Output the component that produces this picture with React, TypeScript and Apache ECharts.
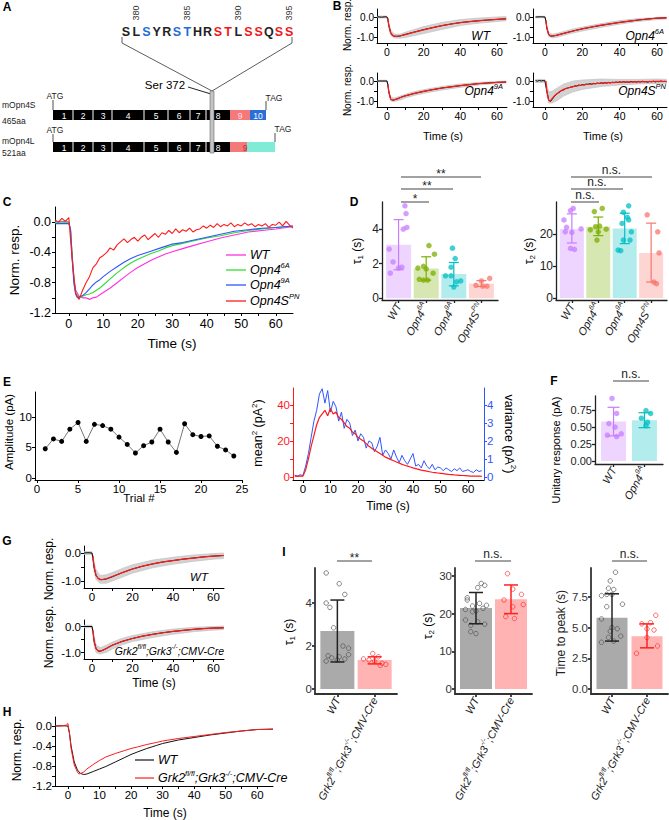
import React, { useEffect, useRef } from "react";
import * as echarts from "echarts";

const FONT = '"Liberation Sans", Arial, Helvetica, sans-serif';

/* ================= A: sequence diagram ================= */
const SEQ = ["S","L","S","Y","R","S","T","H","R","S","T","L","S","S","Q","S","S"];
const SEQ_KIND = [0,0,1,0,0,1,1,0,0,2,2,0,2,2,0,2,2];
const SEQ_NUMS = ["380","385","390","395"];
const SEQ_NUM_IDX = [1,6,11,16];
const EXON_LABELS = ["1","2","3","4","5","6","7","8"];

/* ================= B: mean traces, fits, individual-trace bands ================= */
const B_BAND_T = [-5,0,1,2,4,7,10,15,20,30,40,50,60,65];
const B_WT_MEAN = [[-5,0.01],[-3,-0.01],[-1,0.01],[0,0],[0.5,-0.12],[1,-0.42],[2,-0.78],[3,-0.92],[4,-0.96],[5,-0.97],[7,-0.95],[10,-0.87],[15,-0.75],[20,-0.63],[25,-0.53],[30,-0.43],[35,-0.35],[40,-0.28],[45,-0.23],[50,-0.19],[55,-0.15],[60,-0.12],[65,-0.09]];
const B_WT_FIT = [[0.5,-0.05],[1,-0.42],[2,-0.78],[3,-0.92],[4,-0.96],[5,-0.97],[7,-0.95],[10,-0.88],[15,-0.76],[20,-0.64],[25,-0.53],[30,-0.43],[35,-0.35],[40,-0.28],[45,-0.23],[50,-0.18],[55,-0.15],[60,-0.12],[65,-0.09]];
const B_WT_UP = [0.05,0.05,-0.3,-0.65,-0.85,-0.86,-0.76,-0.62,-0.48,-0.27,-0.13,-0.05,0.0,0.02];
const B_WT_LO = [-0.05,-0.05,-0.55,-0.92,-1.05,-1.06,-1.03,-0.93,-0.83,-0.62,-0.43,-0.31,-0.23,-0.19];

const B_6A_MEAN = [[-5,0],[-2,0.01],[0,0],[0.5,-0.2],[1,-0.55],[2,-0.88],[3,-0.95],[4,-0.95],[6,-0.92],[8,-0.87],[10,-0.82],[15,-0.7],[20,-0.59],[25,-0.5],[30,-0.42],[35,-0.34],[40,-0.27],[45,-0.21],[50,-0.15],[55,-0.1],[60,-0.06],[65,-0.04]];
const B_6A_FIT = [[0.5,-0.15],[1,-0.55],[2,-0.88],[3,-0.95],[4,-0.95],[6,-0.92],[8,-0.87],[10,-0.82],[15,-0.7],[20,-0.59],[25,-0.5],[30,-0.41],[35,-0.34],[40,-0.27],[45,-0.21],[50,-0.15],[55,-0.1],[60,-0.06],[65,-0.04]];
const B_6A_UP = [0.04,0.04,-0.4,-0.78,-0.86,-0.8,-0.72,-0.6,-0.5,-0.33,-0.18,-0.08,-0.02,0.0];
const B_6A_LO = [-0.04,-0.04,-0.6,-0.98,-1.04,-1.0,-0.92,-0.8,-0.7,-0.52,-0.36,-0.22,-0.13,-0.1];

const B_9A_MEAN = [[-5,0],[0,0],[0.5,-0.2],[1,-0.55],[2,-0.9],[3,-0.96],[4,-0.94],[6,-0.88],[8,-0.8],[10,-0.74],[15,-0.62],[20,-0.52],[25,-0.43],[30,-0.35],[35,-0.29],[40,-0.23],[45,-0.18],[50,-0.13],[55,-0.1],[60,-0.07],[65,-0.05]];
const B_9A_FIT = [[0.5,-0.15],[1,-0.55],[2,-0.9],[3,-0.96],[4,-0.94],[6,-0.88],[8,-0.8],[10,-0.74],[15,-0.62],[20,-0.52],[25,-0.43],[30,-0.35],[35,-0.29],[40,-0.23],[45,-0.18],[50,-0.13],[55,-0.1],[60,-0.07],[65,-0.05]];
const B_9A_UP = [0.04,0.04,-0.4,-0.8,-0.85,-0.76,-0.66,-0.53,-0.43,-0.27,-0.15,-0.07,-0.02,0.0];
const B_9A_LO = [-0.04,-0.04,-0.6,-1.0,-1.03,-0.96,-0.85,-0.72,-0.62,-0.45,-0.32,-0.2,-0.12,-0.1];

const B_PN_MEAN = [0.02,-0.01,0.03,0.0,0.02,0.01,
  -0.5,-0.95,-1.02,-0.9,-0.78,-0.68,-0.6,-0.55,-0.47,-0.45,
  -0.38,-0.36,-0.33,-0.3,-0.29,-0.24,-0.25,-0.2,-0.22,-0.18,
  -0.2,-0.15,-0.17,-0.13,-0.16,-0.12,-0.14,-0.1,-0.13,-0.09,
  -0.12,-0.08,-0.11,-0.07,-0.1,-0.06,-0.09,-0.05,-0.08,-0.04,
  -0.07,-0.03,-0.06,-0.04,-0.07,-0.02,-0.05,-0.03,-0.06,-0.02,
  -0.05,-0.01,-0.04,-0.03,-0.06,-0.02,-0.04,-0.01,-0.05,-0.02,
  -0.04,0.0,-0.03,-0.02,-0.04]; // t = -5 .. 65 s, 1 s steps
const B_PN_FIT = [[0.5,0],[1,-0.5],[2,-0.95],[2.5,-1.0],[3,-0.97],[4,-0.86],[5,-0.75],[6,-0.66],[8,-0.52],[10,-0.42],[12,-0.35],[15,-0.28],[20,-0.2],[25,-0.15],[30,-0.11],[35,-0.08],[40,-0.06],[50,-0.04],[60,-0.02],[65,-0.02]];
const B_PN_UP = [0.08,0.08,-0.2,-0.55,-0.5,-0.32,-0.15,0.0,0.05,0.1,0.08,0.08,0.1,0.08];
const B_PN_LO = [-0.08,-0.08,-0.7,-1.1,-1.1,-0.95,-0.75,-0.55,-0.42,-0.28,-0.2,-0.15,-0.12,-0.12];

/* ================= C: overlay of mean traces ================= */
const C_WT = [[-4,0.0],[-2,0.01],[0,0.0],[0.5,-0.1],[1,-0.45],[1.5,-0.75],[2,-0.9],[3,-0.98],[4,-1.0],[5,-1.0],[6,-1.02],[7,-1.0],[8,-0.99],[9,-0.96],[10,-0.93],[12,-0.87],[14,-0.8],[16,-0.73],[18,-0.66],[20,-0.6],[22,-0.55],[24,-0.5],[26,-0.46],[28,-0.42],[30,-0.39],[33,-0.35],[36,-0.31],[40,-0.26],[44,-0.21],[48,-0.17],[52,-0.13],[56,-0.11],[60,-0.09],[63,-0.07],[65,-0.06]];
const C_6A = [[-4,0],[0,0],[0.5,-0.1],[1,-0.45],[1.5,-0.78],[2,-0.93],[3,-1.0],[4,-0.98],[5,-0.96],[6,-0.95],[7,-0.93],[8,-0.9],[9,-0.87],[10,-0.83],[12,-0.75],[14,-0.67],[16,-0.6],[18,-0.54],[20,-0.49],[22,-0.45],[24,-0.41],[26,-0.38],[28,-0.34],[30,-0.31],[33,-0.28],[36,-0.25],[40,-0.21],[44,-0.18],[48,-0.14],[52,-0.11],[56,-0.09],[60,-0.07],[65,-0.05]];
const C_9A = [[-4,-0.02],[0,-0.02],[0.5,-0.1],[1,-0.5],[1.5,-0.82],[2,-0.95],[2.5,-1.0],[3,-0.99],[4,-0.97],[5,-0.93],[6,-0.88],[7,-0.83],[8,-0.79],[9,-0.76],[10,-0.72],[12,-0.65],[14,-0.59],[16,-0.53],[18,-0.48],[20,-0.44],[22,-0.41],[24,-0.38],[26,-0.35],[28,-0.32],[30,-0.29],[33,-0.27],[36,-0.24],[40,-0.2],[44,-0.16],[48,-0.12],[52,-0.1],[56,-0.08],[60,-0.07],[65,-0.05]];
const C_PN = [0.03,0.0,0.05,0.01,0.06,
  -0.5,-0.95,-1.02,-0.9,-0.8,-0.72,-0.6,-0.55,-0.47,-0.44,
  -0.4,-0.34,-0.37,-0.3,-0.26,-0.22,-0.27,-0.23,-0.2,-0.25,
  -0.2,-0.17,-0.23,-0.19,-0.15,-0.2,-0.14,-0.16,-0.11,-0.15,
  -0.09,-0.14,-0.1,-0.12,-0.08,-0.13,-0.1,-0.09,-0.05,-0.08,
  -0.04,-0.07,-0.02,-0.06,-0.03,-0.05,-0.01,-0.06,-0.03,-0.05,
  -0.01,-0.04,-0.02,-0.06,-0.03,-0.05,-0.02,-0.07,-0.03,-0.04,
  0.0,-0.05,0.01,-0.04,-0.08]; // t = -4 .. 65 s
const C_LEGEND = ["{i|WT}", "{i|Opn4}{s|6A}", "{i|Opn4}{s|9A}", "{i|Opn4S}{s|PN}"];

/* ================= D: tau1 / tau2 ================= */
const D_LABELS = ["{i|WT}", "{i|Opn4}{s|6A}", "{i|Opn4}{s|9A}", "{i|Opn4S}{s|PN}"];
const D_TAU1_MEAN = [3.1, 1.72, 1.4, 0.85];
const D_TAU1_LO = [1.65, 1.05, 0.72, 0.68];
const D_TAU1_HI = [4.55, 2.4, 2.07, 1.02];
const D_TAU1_PTS = [[5.35,4.9,4.1,4.0,2.85,2.1,1.8,1.75,1.45],[3.05,2.55,1.85,1.75,1.7,1.45,1.1,1.05,1.05],[2.9,2.3,1.8,1.3,1.3,1.0,0.95,0.65],[1.15,1.0,0.75,0.7,0.7]];
const D_TAU1_JIT = [[0.23,0.27,0.3,0.17,-0.34,-0.2,0.12,0.0,-0.3],[0.1,0.3,-0.1,-0.3,0.0,0.25,-0.25,-0.1,0.05],[-0.05,0.05,-0.1,-0.3,-0.1,0.25,0.1,0.0],[0.3,0.0,-0.2,0.05,0.2]];
const D_TAU2_MEAN = [21.6, 22.3, 21.7, 14.1];
const D_TAU2_LO = [17.2, 19.5, 17.0, 5.0];
const D_TAU2_HI = [26.3, 25.3, 26.5, 23.4];
const D_TAU2_PTS = [[28.0,27.3,24.4,22.1,21.6,20.7,20.5,15.5,15.2],[28.0,27.0,22.5,22.3,21.5,21.3,20.7,18.1],[28.8,26.8,25.2,24.4,23.3,20.7,18.1,18.1,15.0,14.8],[26.0,20.7,14.1,5.0,4.5]];
const D_TAU2_JIT = [[0.05,-0.05,-0.3,-0.2,0.35,-0.25,0.0,-0.05,0.1],[0.15,-0.15,0.05,-0.1,0.3,-0.3,0.0,-0.05],[0.15,-0.05,0.1,0.15,-0.1,0.25,0.2,-0.05,-0.25,-0.15],[-0.15,0.25,0.3,0.1,0.2]];

/* ================= E: amplitudes, mean^2 and variance ================= */
const E_TRIAL = [1,2,3,4,5,6,7,8,9,10,11,12,13,14,15,16,17,18,19,20,21,22,23,24];
const E_AMP = [4.8,6.4,6.0,8.0,9.1,6.0,8.8,8.6,8.0,6.7,5.5,4.1,5.3,5.9,8.0,5.9,4.2,8.9,7.1,6.8,6.9,5.2,4.6,3.6];
const E_MEAN2 = [0.5,0.3,0.5,0.4,
  4,10,17,23,29,33,35,37,34,38,
  35,36,33,32,30,28,27,25,24,22,
  21,20,18.5,17,16,15,14,13,12,11,
  10.3,9.6,9,8.3,7.7,7,6.5,6,5.5,5,
  4.6,4.2,3.8,3.5,3.2,2.9,2.6,2.4,2.2,2,
  1.8,1.6,1.4,1.3,1.1,1.0,0.9,0.8,0.7,0.6,
  0.5,0.5,0.4,0.4,0.3]; // t = -3 .. 65 s
const E_VAR = [0.1,0.05,0.12,0.08,
  0.6,1.3,2.2,3.1,3.7,4.6,4.9,4.1,4.8,3.6,
  4.2,3.9,3.1,3.6,2.7,3.2,3.0,2.3,2.6,2.0,
  2.4,2.2,1.6,2.0,1.9,1.4,1.7,2.2,1.2,1.5,
  1.3,1.0,1.5,1.1,0.8,1.2,0.9,0.7,1.0,1.3,
  0.6,0.7,0.5,0.9,0.6,0.45,0.7,0.4,0.55,0.5,
  0.35,0.5,0.4,0.3,0.45,0.35,0.5,0.3,0.35,0.4,
  0.3,0.25,0.4,0.3,0.35];

/* ================= F: unitary response ================= */
const F_LABELS = ["{i|WT}", "{i|Opn4}{s|9A}"];
const F_MEAN = [0.58, 0.60];
const F_LO = [0.37, 0.49];
const F_HI = [0.79, 0.71];
const F_PTS = [[0.92,0.70,0.55,0.50,0.40,0.38,0.36],[0.74,0.70,0.63,0.57,0.52]];
const F_JIT = [[-0.05,0.1,-0.15,0.05,0.25,-0.2,0.1],[0.05,0.2,-0.1,0.1,0.05]];

/* ================= G / H: Grk2/3 traces ================= */
const G_BAND_T = [-4,0,1,2,4,7,10,15,20,30,40,50,60,65];
const G_WT_MEAN = [[-4,0],[-2,0.01],[0,0],[0.5,-0.2],[1,-0.5],[2,-0.8],[3,-0.9],[4,-0.94],[5,-0.95],[7,-0.93],[10,-0.85],[15,-0.7],[20,-0.57],[25,-0.47],[30,-0.39],[35,-0.32],[40,-0.27],[45,-0.22],[50,-0.18],[55,-0.14],[60,-0.11],[65,-0.09]];
const G_WT_FIT = [[0.5,-0.1],[1,-0.48],[2,-0.8],[3,-0.91],[4,-0.95],[5,-0.95],[7,-0.92],[10,-0.84],[15,-0.7],[20,-0.57],[25,-0.47],[30,-0.39],[35,-0.32],[40,-0.27],[45,-0.22],[50,-0.18],[55,-0.14],[60,-0.11],[65,-0.09]];
const G_WT_UP = [0.05,0.05,-0.3,-0.6,-0.8,-0.78,-0.7,-0.55,-0.42,-0.25,-0.15,-0.07,-0.02,0.0];
const G_WT_LO = [-0.05,-0.05,-0.65,-0.95,-1.08,-1.08,-1.0,-0.86,-0.72,-0.53,-0.4,-0.3,-0.22,-0.2];
const G_KO_MEAN = [[-4,0],[0,0],[0.5,-0.2],[1,-0.55],[2,-0.85],[3,-0.94],[4,-0.95],[5,-0.93],[7,-0.85],[10,-0.72],[15,-0.57],[20,-0.46],[25,-0.37],[30,-0.3],[35,-0.24],[40,-0.19],[45,-0.15],[50,-0.11],[55,-0.08],[60,-0.06],[65,-0.05]];
const G_KO_FIT = [[0.5,-0.15],[1,-0.55],[2,-0.85],[3,-0.94],[4,-0.95],[5,-0.92],[7,-0.85],[10,-0.72],[15,-0.57],[20,-0.46],[25,-0.37],[30,-0.3],[35,-0.24],[40,-0.19],[45,-0.15],[50,-0.11],[55,-0.08],[60,-0.06],[65,-0.05]];
const G_KO_UP = [0.05,0.05,-0.35,-0.7,-0.82,-0.72,-0.6,-0.45,-0.35,-0.2,-0.1,-0.03,0.0,0.02];
const G_KO_LO = [-0.05,-0.05,-0.7,-1.0,-1.06,-1.0,-0.87,-0.7,-0.58,-0.42,-0.3,-0.2,-0.14,-0.12];
const KO_LABEL = "{i|Grk2}{s|fl/fl}{i|;Grk3}{s|-/-}{i|;CMV-Cre}";

const H_WT = [[-4,0],[-2,0.005],[0,0],[0.5,-0.15],[1,-0.4],[2,-0.72],[3,-0.88],[4,-0.95],[5,-0.97],[6,-0.96],[8,-0.91],[10,-0.86],[12,-0.81],[15,-0.72],[18,-0.63],[20,-0.57],[22,-0.52],[25,-0.45],[28,-0.39],[30,-0.35],[35,-0.28],[40,-0.23],[45,-0.18],[50,-0.14],[55,-0.1],[60,-0.07],[65,-0.06]];
const H_KO = [[-4,0],[-2,0],[-0.5,0.02],[0,0.05],[0.5,-0.15],[1,-0.45],[2,-0.78],[3,-0.92],[3.5,-0.96],[4,-0.95],[5,-0.92],[6,-0.86],[8,-0.77],[10,-0.69],[12,-0.62],[15,-0.55],[18,-0.49],[20,-0.45],[22,-0.42],[25,-0.37],[28,-0.33],[30,-0.3],[35,-0.25],[40,-0.21],[45,-0.17],[50,-0.13],[55,-0.1],[60,-0.07],[65,-0.07]];

/* ================= I: kinetics bars ================= */
const I_LABELS = ["{i|WT}", KO_LABEL];
const I_TAU1_MEAN = [2.7, 1.35], I_TAU1_LO = [1.26, 1.17], I_TAU1_HI = [4.14, 1.5];
const I_TAU1_PTS = [[5.4,4.9,4.4,4.0,3.8,2.85,2.0,1.9,1.6,1.55,1.5,1.45,1.4,1.35,1.3],[1.65,1.5,1.4,1.35,1.3,1.2,1.15,1.1]];
const I_TAU1_JIT = [[-0.3,0.05,0.2,-0.3,-0.2,-0.1,0.15,0.3,0.3,-0.25,0.05,-0.15,0.2,0.0,-0.3],[-0.05,0.1,-0.3,-0.15,0.0,0.2,0.3,0.15]];
const I_TAU2_MEAN = [21.5, 23.8], I_TAU2_LO = [17.3, 20.0], I_TAU2_HI = [25.6, 27.6];
const I_TAU2_PTS = [[28.0,27.5,26.9,24.2,23.6,22.7,22.2,22.0,21.4,21.1,20.7,20.5,18.3,17.8,17.2,16.9,15.2,14.7],[30.6,26.5,25.1,23.6,22.4,21.8,19.2,18.7]];
const I_TAU2_JIT = [[0.15,0.25,0.05,-0.25,-0.25,0.1,0.3,-0.1,0.2,-0.3,0.0,-0.1,-0.3,0.05,0.25,-0.15,-0.15,0.0],[-0.1,0.05,0.3,-0.2,0.35,0.05,-0.15,0.1]];
const I_TTP_MEAN = [5.8, 4.3], I_TTP_LO = [3.9, 3.35], I_TTP_HI = [7.75, 5.3];
const I_TTP_PTS = [[9.5,8.8,8.2,8.1,7.7,7.7,7.6,6.9,6.7,5.7,5.0,4.9,4.7,4.3,4.2,3.9,3.8],[6.0,5.4,5.3,4.9,4.8,4.2,3.5,2.9]];
const I_TTP_JIT = [[0.1,-0.05,-0.1,0.05,-0.15,0.0,-0.3,0.3,-0.15,-0.3,0.0,0.15,-0.05,0.25,-0.1,0.05,-0.3],[0.25,0.1,-0.15,0.0,0.2,0.0,0.3,-0.3]];

/* ================= colours ================= */
const GG = ["#C77CFF", "#7CAE00", "#00BFC4", "#F8766D"];
const GG_FILL = ["rgba(199,124,255,0.32)", "rgba(124,174,0,0.3)", "rgba(0,191,196,0.3)", "rgba(248,118,109,0.3)"];
const C_COLORS = ["#ff30e0", "#30dd30", "#2f55ff", "#ff1a1a"];
const RED = "#ff1a1a";
const BLUE = "#2f55ff";

function steps(a: number, b: number) { const r: number[] = []; for (let t = a; t <= b; t++) r.push(t); return r; }
function zip(ts: number[], vs: number[]) { return vs.map((v, i) => [ts[i], v]); }

function richIt(fs: number, sfs: number, color = "#000", lh = 0) {
  return {
    i: { fontSize: fs, fontStyle: "italic", fontFamily: FONT, color, lineHeight: lh || fs + 5 },
    s: { fontSize: sfs, fontStyle: "italic", fontFamily: FONT, color, lineHeight: 6, verticalAlign: "top" },
  };
}

function axis(min: number, max: number, ticks: number[], labels: number[], fmt: any, o: any = {}) {
  const color = o.color || "#000";
  return {
    type: "value", min, max, position: o.pos,
    axisLine: { show: true, onZero: false, lineStyle: { color, width: o.lw || 1 } },
    axisTick: { show: true, inside: false, length: o.tl ?? 3, customValues: ticks, lineStyle: { color, width: o.lw || 1 } },
    axisLabel: { show: true, customValues: labels, formatter: fmt, fontSize: o.fs || 11, fontFamily: FONT, color: o.lc || color, margin: o.m ?? 3, rotate: o.rot || 0, rich: o.rich, fontStyle: "normal" },
    splitLine: { show: false }, minorTick: { show: false },
  };
}
const f0 = (v: number) => String(Math.round(v));
const f1 = (v: number) => v.toFixed(1);
const f2 = (v: number) => v.toFixed(2);

function buildOption() {
  const grid: any[] = [], xAxis: any[] = [], yAxis: any[] = [], series: any[] = [], gr: any[] = [];

  const plot = (box: number[], xa: any, ya: any, ya2?: any) => {
    grid.push({ left: box[0], top: box[1], width: box[2], height: box[3], containLabel: false, outerBoundsMode: "none" });
    const gi = grid.length - 1;
    xAxis.push({ ...xa, gridIndex: gi });
    yAxis.push({ ...ya, gridIndex: gi });
    const r: any = { xi: xAxis.length - 1, yi: yAxis.length - 1 };
    if (ya2) { yAxis.push({ ...ya2, gridIndex: gi }); r.yi2 = yAxis.length - 1; }
    return r;
  };
  const line = (p: any, data: any[], color: string, width = 1, yi?: number, z = 3, extra: any = {}) => {
    series.push({ type: "line", xAxisIndex: p.xi, yAxisIndex: yi ?? p.yi, data, symbol: "none", showSymbol: false, lineStyle: { color, width }, itemStyle: { color }, z, silent: true, clip: true, ...extra });
  };
  const band = (p: any, ts: number[], lo: number[], hi: number[], color: string) => {
    series.push({
      type: "custom", xAxisIndex: p.xi, yAxisIndex: p.yi, data: [[10, -0.5]], encode: { x: 0, y: 1 }, clip: true, silent: true, z: 1,
      renderItem: (_: any, api: any) => {
        const pts: any[] = [];
        for (let i = 0; i < ts.length; i++) pts.push(api.coord([ts[i], hi[i]]));
        for (let i = ts.length - 1; i >= 0; i--) pts.push(api.coord([ts[i], lo[i]]));
        return { type: "polygon", shape: { points: pts }, style: { fill: color, stroke: "#bdbdbd", lineWidth: 0.6 } };
      },
    });
  };
  const bars = (p: any, means: number[], lo: number[], hi: number[], pts: number[][], jit: number[][], o: any) => {
    series.push({ type: "bar", xAxisIndex: p.xi, yAxisIndex: p.yi, barWidth: o.bw, silent: true, z: 1,
      data: means.map((m, i) => ({ value: [i + 1, m], itemStyle: { color: o.fills[i] } })) });
    pts.forEach((arr, gi) => {
      series.push({ type: "scatter", xAxisIndex: p.xi, yAxisIndex: p.yi, silent: true, z: 2, symbol: "circle", symbolSize: o.ps,
        data: arr.map((v, k) => [gi + 1 + jit[gi][k], v]),
        itemStyle: o.open ? { color: "rgba(255,255,255,0)", borderColor: o.ptc[gi], borderWidth: 0.9 } : { color: o.ptc[gi], opacity: 0.75 } });
    });
    series.push({ type: "custom", xAxisIndex: p.xi, yAxisIndex: p.yi, silent: true, z: 3, encode: { x: 0, y: [1, 2] },
      data: means.map((_, i) => [i + 1, lo[i], hi[i]]),
      renderItem: (params: any, api: any) => {
        const x = api.value(0);
        const a = api.coord([x, api.value(2)]), b = api.coord([x, api.value(1)]);
        const st = { stroke: o.errc[params.dataIndex], lineWidth: o.ew };
        return { type: "group", children: [
          { type: "line", shape: { x1: a[0], y1: a[1], x2: b[0], y2: b[1] }, style: st },
          { type: "line", shape: { x1: a[0] - o.cap, y1: a[1], x2: a[0] + o.cap, y2: a[1] }, style: st },
          { type: "line", shape: { x1: b[0] - o.cap, y1: b[1], x2: b[0] + o.cap, y2: b[1] }, style: st },
        ] };
      } });
  };
  const txt = (x: number, y: number, text: string, o: any = {}) => gr.push({
    type: "text", x, y, rotation: o.rot || 0, silent: true, z: 50,
    style: { text, fill: o.color || "#000", fontSize: o.fs || 11, fontFamily: FONT, fontWeight: o.bold ? "bold" : "normal", fontStyle: o.italic ? "italic" : "normal", align: o.align || "center", verticalAlign: o.va || "middle", rich: o.rich },
  });
  const seg = (x1: number, y1: number, x2: number, y2: number, color = "#000", w = 1) => gr.push({ type: "line", silent: true, z: 40, shape: { x1, y1, x2, y2 }, style: { stroke: color, lineWidth: w } });
  const rect = (x: number, y: number, w: number, h: number, fill: string, z = 30, stroke?: string) => gr.push({ type: "rect", silent: true, z, shape: { x, y, width: w, height: h }, style: { fill, stroke: stroke || null, lineWidth: stroke ? 0.6 : 0 } });
  const sig = (x1: number, x2: number, y: number, t: string, fs = 12) => { seg(x1, y, x2, y, "#444", 1); txt((x1 + x2) / 2, y - (t.startsWith("*") ? 3 : 7), t, { fs, color: "#222" }); };
  const PI2 = Math.PI / 2;

  /* ---------- panel letters ---------- */
  const letters: any[] = [["A", 7, 7], ["B", 337, 6], ["C", 7, 202], ["D", 354, 202], ["E", 7, 382], ["F", 554, 381], ["G", 7, 541], ["H", 7, 712], ["I", 284, 552]];
  letters.forEach(([t, x, y]) => txt(x, y, t, { bold: true, fs: 12 }));

  /* ---------- A: diagram ---------- */
  const kindColor = ["#222", "#1f6fd6", "#f01818"];
  SEQ.forEach((s, i) => txt(126 + i * 10.2, 32, s, { bold: true, fs: 12.5, color: kindColor[SEQ_KIND[i]] }));
  SEQ_NUMS.forEach((n, k) => txt(126 + SEQ_NUM_IDX[k] * 10.2, 13, n, { fs: 9, rot: PI2, color: "#333" }));
  gr.push({ type: "polyline", silent: true, z: 40, shape: { points: [[122, 37], [122, 43], [212, 91]] }, style: { stroke: "#333", lineWidth: 0.8, fill: null } });
  gr.push({ type: "polyline", silent: true, z: 40, shape: { points: [[292, 37], [292, 43], [212, 91]] }, style: { stroke: "#333", lineWidth: 0.8, fill: null } });
  txt(165, 85, "Ser 372", { fs: 11.5 });
  seg(188, 87, 211, 94, "#222", 1);
  const exonCenters = [64, 83, 103, 128, 156, 179, 198, 218];
  const dividers = [73, 93, 112, 144, 168, 190, 206];
  [110, 142].forEach((y, row) => {
    rect(53, y, 177, 10, "#000");
    dividers.forEach((dx) => seg(dx, y, dx, y + 10, "#fff", 1));
    EXON_LABELS.forEach((e, k) => txt(exonCenters[k], y + 5.5, e, { fs: 8.5, color: "#fff" }));
    if (row === 0) {
      rect(230, y, 20, 10, "#f47a7a"); rect(250, y, 16, 10, "#2a6fd8");
      txt(240, y + 5.5, "9", { fs: 8.5, color: "#fde" }); txt(258, y + 5.5, "10", { fs: 8.5, color: "#fff" });
      txt(274, 98, "TAG", { fs: 8.5, color: "#222" }); seg(266, 101, 266, 110, "#222", 0.8);
      txt(55, 96, "ATG", { fs: 8.5, color: "#222" }); seg(53, 100, 53, 110, "#222", 0.8);
      txt(2, 105, "mOpn4S", { fs: 8.5, align: "left", color: "#222" }); txt(2, 121, "465aa", { fs: 8.5, align: "left", color: "#222" });
    } else {
      rect(230, y, 17, 10, "#f47a7a"); rect(247, y, 28, 10, "#80ecd6");
      txt(245, y + 5.5, "9", { fs: 8.5, color: "#a33" });
      txt(283, 129, "TAG", { fs: 8.5, color: "#222" }); seg(275, 133, 275, 142, "#222", 0.8);
      txt(55, 130, "ATG", { fs: 8.5, color: "#222" }); seg(53, 134, 53, 142, "#222", 0.8);
      txt(2, 141, "mOpn4L", { fs: 8.5, align: "left", color: "#222" }); txt(2, 153, "521aa", { fs: 8.5, align: "left", color: "#222" });
    }
  });
  rect(210, 91, 4, 62, "#c4c4c4", 45, "#6a6a6a");

  /* ---------- B ---------- */
  const bX = [0, 10, 20, 30, 40, 50, 60], bXL = [0, 20, 40, 60];
  const bY = (o: any = {}) => axis(-1.3, 0.4, [0, -0.5, -1], [0, -1], f1, { fs: 10, ...o });
  const bPlots: any[] = [
    [[377, 9, 130, 34], -5.45, 65.5, B_WT_MEAN, B_WT_FIT, B_WT_UP, B_WT_LO],
    [[533, 9, 134, 34], -6.4, 65.3, B_6A_MEAN, B_6A_FIT, B_6A_UP, B_6A_LO],
    [[377, 73, 130, 34], -5.45, 65.5, B_9A_MEAN, B_9A_FIT, B_9A_UP, B_9A_LO],
    [[533, 73, 134, 34], -6.4, 65.3, zip(steps(-5, 65), B_PN_MEAN), B_PN_FIT, B_PN_UP, B_PN_LO],
  ];
  bPlots.forEach(([box, mn, mx, mean, fit, up, lo]) => {
    const p = plot(box, axis(mn, mx, bX, bXL, f0, { fs: 10.5 }), bY());
    band(p, B_BAND_T, lo, up, "#d2d2d2");
    line(p, mean, "#000", 1, undefined, 3);
    line(p, fit, RED, 1.2, undefined, 4);
  });
  const bRich = richIt(12, 7.5);
  txt(490, 36, "{i|WT}", { align: "right", rich: bRich });
  txt(664, 36, "{i|Opn4}{s|6A}", { align: "right", rich: bRich });
  txt(503, 91, "{i|Opn4}{s|9A}", { align: "right", rich: bRich });
  txt(666, 91, "{i|Opn4S}{s|PN}", { align: "right", rich: bRich });
  txt(347, 25, "Norm. resp.", { rot: PI2, fs: 10 });
  txt(347, 90, "Norm. resp.", { rot: PI2, fs: 10 });
  txt(443, 136, "Time (s)", { fs: 11 });
  txt(603, 136, "Time (s)", { fs: 11 });

  /* ---------- C ---------- */
  {
    const p = plot([55, 207, 238, 106],
      axis(-4, 65, steps(0, 12).map((k) => k * 5), steps(0, 6).map((k) => k * 10), f0, { fs: 12.5, m: 4 }),
      axis(-1.2, 0.2, [0, -0.2, -0.4, -0.6, -0.8, -1.0, -1.2], [0, -0.4, -0.8, -1.2], f1, { fs: 12.5, m: 4 }));
    line(p, C_WT, C_COLORS[0], 1.1);
    line(p, C_6A, C_COLORS[1], 1.1);
    line(p, C_9A, C_COLORS[2], 1.1);
    line(p, zip(steps(-4, 65), C_PN), C_COLORS[3], 1.1, undefined, 5);
    const cRich = richIt(12.5, 7.5);
    [255, 270, 285, 301].forEach((y, k) => { seg(226, y, 246, y, C_COLORS[k], 1.3); txt(250, y, C_LEGEND[k], { align: "left", rich: cRich }); });
    txt(14, 260, "Norm. resp.", { rot: PI2, fs: 13.5 });
    txt(172, 343, "Time (s)", { fs: 13.5 });
  }

  /* ---------- D ---------- */
  const dRich = richIt(11, 7, "#222", 16);
  {
    const p = plot([382, 202, 116, 98],
      axis(0.4, 4.6, [1, 2, 3, 4], [1, 2, 3, 4], (v: number) => D_LABELS[Math.round(v) - 1], { rot: 60, rich: dRich, m: 4, lw: 1.3, color: "#222" }),
      axis(-0.1, 5.57, [0, 2, 4], [0, 2, 4], f0, { fs: 12, lw: 1.3, color: "#222" }));
    bars(p, D_TAU1_MEAN, D_TAU1_LO, D_TAU1_HI, D_TAU1_PTS, D_TAU1_JIT, { bw: 25, fills: GG_FILL, ptc: GG, errc: GG, ps: 5.5, cap: 5, ew: 1.2 });
    const p2 = plot([556, 202, 111, 98],
      axis(0.4, 4.6, [1, 2, 3, 4], [1, 2, 3, 4], (v: number) => D_LABELS[Math.round(v) - 1], { rot: 60, rich: dRich, m: 4, lw: 1.3, color: "#222" }),
      axis(-0.6, 30, [0, 10, 20], [0, 10, 20], f0, { fs: 12, lw: 1.3, color: "#222" }));
    bars(p2, D_TAU2_MEAN, D_TAU2_LO, D_TAU2_HI, D_TAU2_PTS, D_TAU2_JIT, { bw: 24, fills: GG_FILL, ptc: GG, errc: GG, ps: 5.5, cap: 5, ew: 1.2 });
    const tRich = { a: { fontSize: 12, fontFamily: FONT, color: "#222", lineHeight: 14 }, b: { fontSize: 8, fontFamily: FONT, color: "#222", lineHeight: 6, verticalAlign: "bottom" } };
    txt(357, 251, "{a|τ}{b|1}{a| (s)}", { rot: PI2, rich: tRich });
    txt(529, 251, "{a|τ}{b|2}{a| (s)}", { rot: PI2, rich: tRich });
    sig(401, 429, 202, "*");
    sig(401, 453, 189, "**");
    sig(401, 481, 177, "**");
    sig(571, 599, 202, "n.s.");
    sig(571, 623, 189, "n.s.");
    sig(571, 652, 177, "n.s.");
  }

  /* ---------- E ---------- */
  {
    const p = plot([35, 392, 207, 88],
      axis(-0.25, 25, [0, 5, 10, 15, 20, 25], [0, 5, 10, 15, 20, 25], f0, { fs: 11.5 }),
      axis(-0.33, 14.1, [0, 5, 10], [0, 5, 10], f0, { fs: 11.5 }));
    series.push({ type: "line", xAxisIndex: p.xi, yAxisIndex: p.yi, data: zip(E_TRIAL, E_AMP), symbol: "circle", symbolSize: 5, showSymbol: true,
      lineStyle: { color: "#777", width: 1 }, itemStyle: { color: "#000", borderWidth: 0 }, silent: true, z: 3 });
    txt(9, 432, "Amplitude (pA)", { rot: PI2, fs: 11.5 });
    txt(139, 498, "Trial #", { fs: 11.5 });

    const p2 = plot([293, 388, 191, 92],
      axis(-3.6, 65.8, [0, 10, 20, 30, 40, 50, 60], [0, 10, 20, 30, 40, 50, 60], f0, { fs: 11.5 }),
      axis(-1.7, 49.4, [0, 10, 20, 30, 40], [0, 20, 40], f0, { fs: 11.5, color: RED, pos: "left" }),
      axis(-0.17, 4.94, [0, 1, 2, 3, 4, 5], [0, 1, 2, 3, 4, 5], f0, { fs: 11.5, color: BLUE, pos: "right" }));
    line(p2, zip(steps(-3, 65), E_VAR), BLUE, 1, p2.yi2, 3);
    line(p2, zip(steps(-3, 65), E_MEAN2), RED, 1.2, p2.yi, 4);
    txt(258, 433, "{a|mean}{b|2}{a| (pA}{b|2}{a|)}", { rot: PI2, rich: { a: { fontSize: 12.5, fontFamily: FONT, color: RED, lineHeight: 16 }, b: { fontSize: 8, fontFamily: FONT, color: RED, lineHeight: 6, verticalAlign: "top" } } });
    txt(509, 434, "{a|variance (pA}{b|2}{a|)}", { rot: -PI2, rich: { a: { fontSize: 12.5, fontFamily: FONT, color: BLUE, lineHeight: 16 }, b: { fontSize: 8, fontFamily: FONT, color: BLUE, lineHeight: 6, verticalAlign: "top" } } });
    txt(388, 506, "Time (s)", { fs: 12 });
  }

  /* ---------- F ---------- */
  {
    const p = plot([595, 396, 68, 68],
      axis(0.4, 2.6, [1, 2], [1, 2], (v: number) => F_LABELS[Math.round(v) - 1], { rot: 60, rich: dRich, m: 4, lw: 1.3, color: "#222" }),
      axis(-0.044, 0.956, [0, 0.25, 0.5, 0.75], [0, 0.25, 0.5, 0.75], f2, { fs: 11, lw: 1.3, color: "#222" }));
    bars(p, F_MEAN, F_LO, F_HI, F_PTS, F_JIT, { bw: 25, fills: [GG_FILL[0], GG_FILL[2]], ptc: [GG[0], GG[2]], errc: [GG[0], GG[2]], ps: 5.5, cap: 6, ew: 1.2 });
    sig(613, 649, 381, "n.s.");
    txt(556, 450, "Unitary response (pA)", { rot: PI2, fs: 11 });
  }

  /* ---------- G ---------- */
  {
    const gx = () => axis(-3.95, 65.2, bX, bXL, f0, { fs: 11.5 });
    const gy = () => axis(-1.25, 0.25, [0, -0.5, -1], [0, -1], f1, { fs: 11.5 });
    const p = plot([84, 546, 140, 42], gx(), gy());
    band(p, G_BAND_T, G_WT_LO, G_WT_UP, "#d2d2d2");
    line(p, G_WT_MEAN, "#000", 1);
    line(p, G_WT_FIT, RED, 1.2, undefined, 4);
    const p2 = plot([84, 620, 140, 39], gx(), gy());
    band(p2, G_BAND_T, G_KO_LO, G_KO_UP, "#d2d2d2");
    line(p2, G_KO_MEAN, "#000", 1);
    line(p2, G_KO_FIT, RED, 1.2, undefined, 4);
    txt(208, 577, "{i|WT}", { align: "right", rich: richIt(11.5, 7) });
    txt(224, 651, KO_LABEL, { align: "right", rich: richIt(10.5, 6.5) });
    txt(49, 569, "Norm. resp.", { rot: PI2, fs: 12 });
    txt(49, 637, "Norm. resp.", { rot: PI2, fs: 12 });
    txt(154, 683, "Time (s)", { fs: 12 });
  }

  /* ---------- H ---------- */
  {
    const p = plot([55, 717, 218, 69],
      axis(-4.1, 65, steps(0, 12).map((k) => k * 5), steps(0, 6).map((k) => k * 10), f0, { fs: 11.5 }),
      axis(-1.2, 0.18, [0, -0.2, -0.4, -0.6, -0.8, -1.0, -1.2], [0, -0.4, -0.8, -1.2], f1, { fs: 11.5 }));
    line(p, H_WT, "#111", 1);
    line(p, H_KO, RED, 1, undefined, 4);
    const hRich = richIt(12.5, 7.5);
    seg(135, 760, 154, 760, "#111", 1.2); txt(158, 760, "{i|WT}", { align: "left", rich: hRich });
    seg(135, 778, 154, 778, RED, 1.2); txt(158, 778, KO_LABEL, { align: "left", rich: hRich });
    txt(17, 750, "Norm. resp.", { rot: PI2, fs: 12 });
    txt(165, 813, "Time (s)", { fs: 12 });
  }

  /* ---------- I ---------- */
  {
    const iRich = richIt(11, 7, "#222", 16);
    const ix = () => axis(0.4, 2.6, [1, 2], [1, 2], (v: number) => I_LABELS[Math.round(v) - 1], { rot: 62, rich: iRich, m: 4, lw: 1.8, color: "#333" });
    const io = (bw: number) => ({ bw, fills: ["#aaaaaa", "#ffb3b3"], ptc: ["#555", "#ff3030"], errc: ["#222", "#ff2020"], ps: 4.5, cap: 7, ew: 1.5, open: true });
    const p1 = plot([315, 568, 82, 126], ix(), axis(-0.23, 5.63, [0, 2, 4], [0, 2, 4], f0, { fs: 11.5, lw: 1.8, color: "#333" }));
    bars(p1, I_TAU1_MEAN, I_TAU1_LO, I_TAU1_HI, I_TAU1_PTS, I_TAU1_JIT, io(34));
    const p2 = plot([455, 568, 77, 126], ix(), axis(-1.33, 32.1, [0, 10, 20, 30], [0, 10, 20, 30], f0, { fs: 11.5, lw: 1.8, color: "#333" }));
    bars(p2, I_TAU2_MEAN, I_TAU2_LO, I_TAU2_HI, I_TAU2_PTS, I_TAU2_JIT, io(32));
    const p3 = plot([591, 568, 77, 126], ix(), axis(-0.41, 9.85, [0, 2.5, 5, 7.5], [0, 2.5, 5, 7.5], f1, { fs: 11.5, lw: 1.8, color: "#333" }));
    bars(p3, I_TTP_MEAN, I_TTP_LO, I_TTP_HI, I_TTP_PTS, I_TTP_JIT, io(31));
    const tr = { a: { fontSize: 12, fontFamily: FONT, color: "#222", lineHeight: 14 }, b: { fontSize: 8, fontFamily: FONT, color: "#222", lineHeight: 6, verticalAlign: "bottom" } };
    txt(289, 632, "{a|τ}{b|1}{a| (s)}", { rot: PI2, rich: tr });
    txt(428, 626, "{a|τ}{b|2}{a| (s)}", { rot: PI2, rich: tr });
    txt(561, 633, "Time to peak (s)", { rot: PI2, fs: 12, color: "#222" });
    sig(337, 372, 561, "**");
    sig(475, 511, 561, "n.s.");
    sig(612, 647, 561, "n.s.");
  }

  return {
    animation: false,
    backgroundColor: "#fff",
    textStyle: { fontFamily: FONT },
    grid, xAxis, yAxis, series, graphic: gr,
  };
}

export default function App() {
  const ref = useRef<HTMLDivElement>(null);
  useEffect(() => {
    const chart = echarts.init(ref.current as HTMLDivElement, null, { renderer: "svg" });
    chart.setOption(buildOption() as any);
    return () => chart.dispose();
  }, []);
  return <div ref={ref} style={{ position: "fixed", left: 0, top: 0, width: 669, height: 820, background: "#fff" }} />;
}
